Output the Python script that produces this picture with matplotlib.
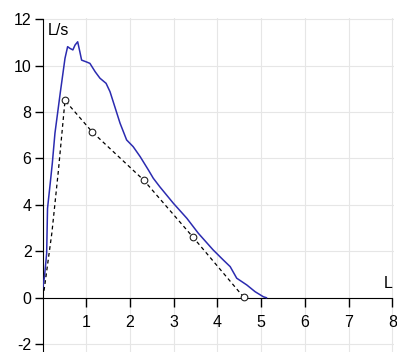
import matplotlib.pyplot as plt

# measured flow-volume curve (L, L/s)
vol = [0.0, 0.04, 0.09, 0.11, 0.17, 0.22, 0.28, 0.40, 0.51, 0.57, 0.62, 0.69,
       0.74, 0.80, 0.85, 0.89, 0.99, 1.08, 1.20, 1.31, 1.45, 1.54, 1.65, 1.77,
       1.92, 2.07, 2.23, 2.42, 2.53, 2.68, 2.99, 3.30, 3.56, 3.90, 4.13, 4.29,
       4.44, 4.67, 4.86, 5.05, 5.12]
flow = [0.4, 0.9, 1.9, 3.85, 4.9, 5.8, 7.09, 8.81, 10.32, 10.82, 10.75, 10.68,
        10.89, 11.03, 10.6, 10.24, 10.17, 10.1, 9.74, 9.46, 9.24, 8.88, 8.23, 7.52,
        6.8, 6.51, 6.08, 5.5, 5.15, 4.78, 4.07, 3.42, 2.78, 2.06, 1.63, 1.34,
        0.84, 0.55, 0.26, 0.04, 0.0]

# predicted curve (dashed) and its marker points
pred_vol = [0.03, 0.21, 0.36, 0.51, 1.13, 2.31, 3.43, 4.60]
pred_flow = [0.3, 2.8, 5.5, 8.5, 7.15, 5.07, 2.63, 0.02]
pt_vol = [0.51, 1.13, 2.31, 3.43, 4.60]
pt_flow = [8.5, 7.15, 5.07, 2.63, 0.02]

xticks = [1, 2, 3, 4, 5, 6, 7, 8]
yticks = [-2, 0, 2, 4, 6, 8, 10, 12]

plt.rcParams['font.family'] = ['Liberation Sans', 'DejaVu Sans']
plt.rcParams['axes.unicode_minus'] = False

fig = plt.figure(figsize=(3.97, 3.52), dpi=100)
ax = fig.add_axes([0.1076, 0, 0.886, 0.9485])

ax.plot(vol, flow, color='#2b2bb0', lw=1.1, zorder=3)
ax.plot(pred_vol, pred_flow, color='black', lw=0.9, ls=(0, (3, 2.5)), zorder=3)
ax.plot(pt_vol, pt_flow, 'o', ms=4.8, mfc='white', mec='#222222', mew=0.8, zorder=4)

ax.set_xlim(0, 8.05)
ax.set_ylim(-2.34, 12.05)
ax.set_xticks(xticks)
ax.set_yticks(yticks)

ax.grid(True, color='#e6e6e6', lw=0.8)
ax.set_axisbelow(True)

for s in ['top', 'right']:
    ax.spines[s].set_visible(False)
ax.spines['left'].set_position(('data', 0))
ax.spines['bottom'].set_position(('data', 0))
ax.spines['left'].set_bounds(-2.34, 12)
ax.spines['bottom'].set_bounds(0, 8)

ax.tick_params(axis='x', direction='out', length=6.5, width=1, pad=6, labelsize=11.5)
ax.tick_params(axis='y', direction='out', length=6, width=1, pad=2, labelsize=11.5)

ax.text(0.12, 11.85, 'L/s', fontsize=11.5, ha='left', va='top',
        bbox=dict(facecolor='white', edgecolor='none', pad=1))
ax.text(8.0, 0.3, 'L', fontsize=11.5, ha='right', va='bottom')

fig.savefig('out.png', dpi=100)
